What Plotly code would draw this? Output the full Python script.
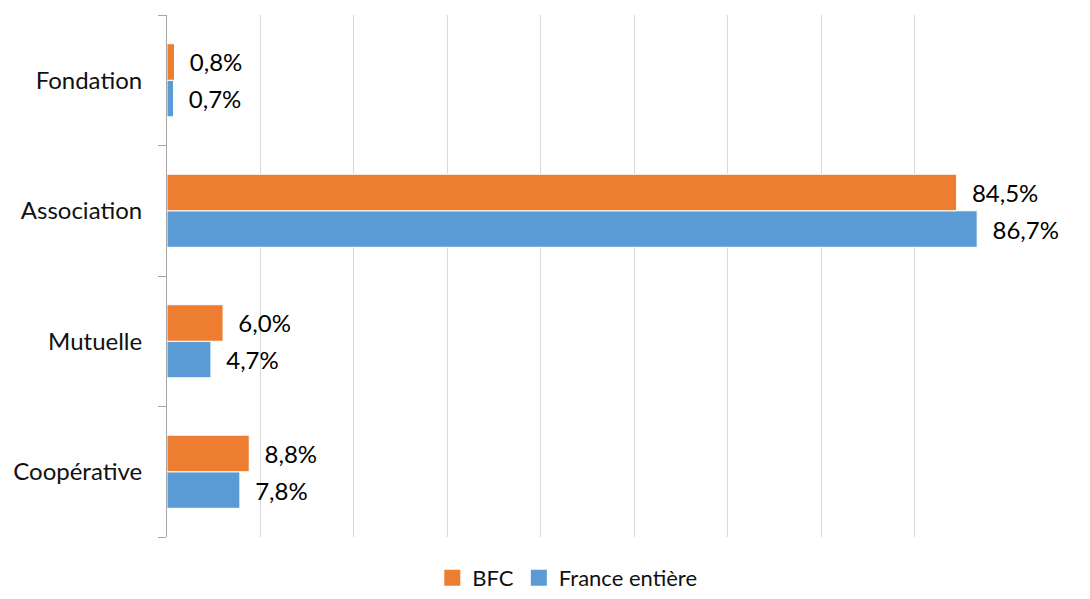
import plotly.graph_objects as go

# categories bottom -> top
categories = ["Coopérative", "Mutuelle", "Association", "Fondation"]
bfc = [8.8, 6.0, 84.5, 0.8]
france = [7.8, 4.7, 86.7, 0.7]

orange = "#ED7D31"
blue = "#5B9BD5"

def fmt(v):
    # a little padding so the label sits away from the bar end, like the original
    return "  " + "{:.1f}%".format(v).replace(".", ",")

fig = go.Figure()
# France first so it sits below BFC in each group
fig.add_trace(go.Bar(
    y=categories, x=france, name="France entière", orientation="h", showlegend=False,
    marker=dict(color=blue, line=dict(color="white", width=1)),
    text=[fmt(v) for v in france], textposition="outside",
    textfont=dict(color="black", size=24), cliponaxis=False,
))
fig.add_trace(go.Bar(
    y=categories, x=bfc, name="BFC", orientation="h", showlegend=False,
    marker=dict(color=orange, line=dict(color="white", width=1)),
    text=[fmt(v) for v in bfc], textposition="outside",
    textfont=dict(color="black", size=24), cliponaxis=False,
))
# legend entries with bigger square swatches
for name, col in [("BFC", orange), ("France entière", blue)]:
    fig.add_trace(go.Scatter(
        x=[None], y=[None], mode="markers", name=name,
        marker=dict(symbol="square", size=16, color=col),
    ))

# page body has an 8px margin, so the figure is shifted back by that much
fig.update_layout(
    width=1082, height=591,
    barmode="group", bargap=0.44, bargroupgap=0,
    plot_bgcolor="white", paper_bgcolor="white",
    font=dict(family="Lato, Open Sans, sans-serif", size=24, color="#111111"),
    margin=dict(l=159, r=82, t=7, b=62),
    showlegend=True,
    legend=dict(orientation="h", x=0.476, xanchor="center", itemsizing="trace",
                itemwidth=30,
                yref="container", y=0.0, yanchor="bottom",
                font=dict(size=22, color="#111111")),
    uniformtext=dict(minsize=24, mode="show"),
)
fig.update_xaxes(range=[0, 90], dtick=10, showgrid=True, gridcolor="#D9D9D9",
                 gridwidth=1, showticklabels=False, zeroline=False, showline=False,
                 automargin=False)
fig.update_yaxes(categoryorder="array", categoryarray=categories, automargin=False,
                 showline=True, linecolor="#A6A6A6", linewidth=1,
                 ticks="outside", tickson="boundaries", ticklen=8, tickcolor="#A6A6A6",
                 ticklabelstandoff=19)

fig.write_html("out.html")
